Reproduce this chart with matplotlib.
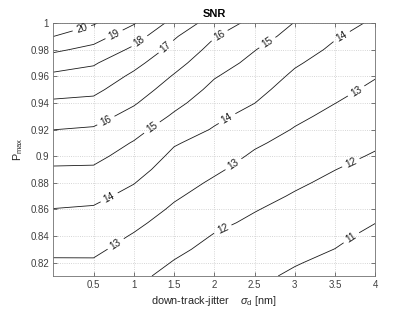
import numpy as np
import matplotlib
matplotlib.use("Agg")
import matplotlib.pyplot as plt

plt.rcParams['font.family'] = ['Liberation Sans', 'DejaVu Sans']
plt.rcParams['mathtext.fontset'] = 'custom'
plt.rcParams['mathtext.rm'] = 'Liberation Sans'
plt.rcParams['mathtext.it'] = 'Liberation Sans:italic'

# jitter sigma_d [nm] (columns) and P_max (rows)
sigma_d = [0, 0.5, 1, 1.5, 2, 2.5, 3, 3.5, 4]
p_max = [0.81, 0.82, 0.83, 0.84, 0.85, 0.86, 0.87, 0.88, 0.89, 0.90,
         0.91, 0.92, 0.93, 0.94, 0.95, 0.96, 0.97, 0.98, 0.99, 1.00]

# SNR, one row per P_max value
snr = [
    [12.63, 12.65, 12.23, 11.72, 11.40, 11.17, 10.88, 10.63, 10.26],
    [12.90, 12.91, 12.46, 11.95, 11.58, 11.34, 11.05, 10.81, 10.44],
    [13.17, 13.16, 12.69, 12.18, 11.76, 11.52, 11.23, 10.99, 10.63],
    [13.44, 13.41, 12.93, 12.41, 11.95, 11.69, 11.40, 11.16, 10.81],
    [13.71, 13.66, 13.19, 12.64, 12.17, 11.86, 11.58, 11.33, 11.01],
    [13.98, 13.91, 13.47, 12.87, 12.40, 12.04, 11.75, 11.49, 11.19],
    [14.29, 14.21, 13.75, 13.11, 12.64, 12.25, 11.93, 11.66, 11.37],
    [14.60, 14.55, 14.03, 13.34, 12.88, 12.46, 12.12, 11.83, 11.56],
    [14.91, 14.89, 14.33, 13.58, 13.13, 12.67, 12.33, 12.01, 11.74],
    [15.26, 15.23, 14.64, 13.81, 13.40, 12.88, 12.54, 12.20, 11.93],
    [15.63, 15.57, 14.94, 14.08, 13.66, 13.12, 12.74, 12.40, 12.11],
    [16.01, 15.91, 15.31, 14.48, 13.93, 13.41, 12.95, 12.60, 12.30],
    [16.43, 16.33, 15.70, 14.88, 14.20, 13.71, 13.17, 12.80, 12.48],
    [16.87, 16.78, 16.09, 15.24, 14.49, 14.01, 13.40, 13.01, 12.67],
    [17.33, 17.21, 16.45, 15.59, 14.77, 14.26, 13.62, 13.21, 12.85],
    [17.81, 17.64, 16.82, 15.93, 15.06, 14.51, 13.85, 13.42, 13.04],
    [18.43, 18.10, 17.27, 16.31, 15.39, 14.77, 14.10, 13.63, 13.25],
    [19.17, 18.74, 17.81, 16.69, 15.71, 15.03, 14.40, 13.84, 13.45],
    [20.01, 19.41, 18.42, 17.11, 16.05, 15.38, 14.70, 14.07, 13.66],
    [20.83, 20.10, 19.08, 17.69, 16.54, 15.72, 14.97, 14.33, 13.87],
]
levels = [11, 12, 13, 14, 15, 16, 17, 18, 19, 20]

xticks = [0.5, 1, 1.5, 2, 2.5, 3, 3.5, 4]
xticklabels = ['0.5', '1', '1.5', '2', '2.5', '3', '3.5', '4']
yticks = [0.82, 0.84, 0.86, 0.88, 0.9, 0.92, 0.94, 0.96, 0.98, 1.0]
yticklabels = ['0.82', '0.84', '0.86', '0.88', '0.9', '0.92', '0.94', '0.96', '0.98', '1']

# where the labels sit on the lines
label_pos = [(0.36, 0.995), (0.75, 0.992), (1.06, 0.987), (1.40, 0.982),
             (0.65, 0.927), (2.06, 0.991), (1.23, 0.921), (2.65, 0.986),
             (0.69, 0.8695), (2.17, 0.927), (3.56, 0.992),
             (0.77, 0.8345), (2.23, 0.8946), (3.75, 0.95),
             (2.10, 0.8458), (3.69, 0.8958), (3.71, 0.838)]

fig = plt.figure(figsize=(4.15, 3.12), dpi=100)
ax = fig.add_axes([0.1285, 0.1154, 0.776, 0.811])

X, Y = np.meshgrid(sigma_d, p_max)
cs = ax.contour(X, Y, np.array(snr), levels=levels, colors='#1a1a1a', linewidths=0.6)
lbls = ax.clabel(cs, fmt='%d', fontsize=7.2, inline=True, inline_spacing=4, manual=label_pos)
for t in lbls:
    t.set_clip_on(False)

ax.set_xlim(0, 4)
ax.set_ylim(0.81, 1.0)
ax.set_xticks(xticks)
ax.set_xticklabels(xticklabels)
ax.set_yticks(yticks)
ax.set_yticklabels(yticklabels)
ax.tick_params(direction='in', length=3, width=0.5, top=True, right=True,
               labelsize=7, colors='#404040', pad=3)
ax.grid(True, linestyle=':', color='#c8c8c8', linewidth=0.6)
for s in ax.spines.values():
    s.set_color('#707070')
    s.set_linewidth(0.6)

ax.set_title('SNR', fontsize=8, fontweight='bold', pad=4)
ax.set_xlabel('down-track-jitter    $\\sigma_{\\rm d}$ [nm]', fontsize=7.8, color='#262626', labelpad=3)
ax.set_ylabel('$\\rm P_{max}$', fontsize=7.8, color='#262626', labelpad=4)

fig.savefig('out.png', dpi=100, facecolor='white')
